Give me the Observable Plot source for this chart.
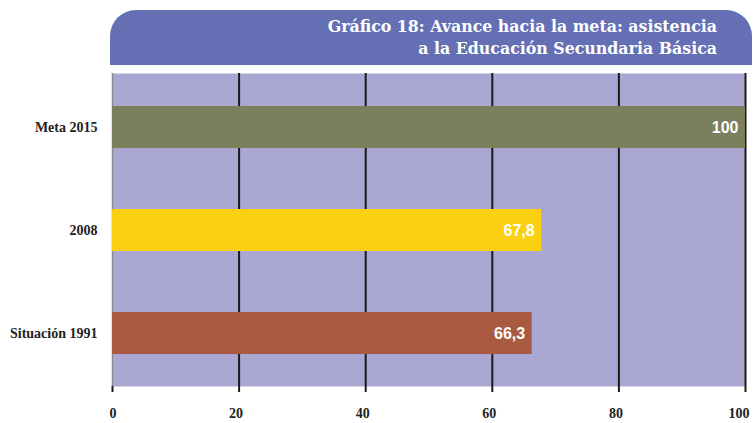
<!DOCTYPE html>
<html>
<head>
<meta charset="utf-8">
<script src="https://cdn.jsdelivr.net/npm/d3@7"></script>
<script src="https://cdn.jsdelivr.net/npm/@observablehq/plot@0.6"></script>
<style>
  html, body { margin: 0; padding: 0; background: #fff; }
  #wrap { position: relative; width: 756px; height: 423px; overflow: hidden; }
  #header {
    position: absolute; left: 110px; top: 10px; width: 642px; height: 55px;
    background: #6470b3; border-radius: 26px 26px 0 0; z-index: 2;
  }
  #header div {
    position: absolute; right: 35px; color: #fff;
    font-family: "DejaVu Serif", serif; font-weight: bold;
    font-size: 15.8px; white-space: nowrap; text-align: right; line-height: 18px;
  }
  #chart { position: absolute; left: 0; top: 0; }
</style>
</head>
<body>
<div id="wrap">
  <div id="header">
    <div style="top:8px">Gráfico 18: Avance hacia la meta: asistencia</div>
    <div style="top:30px">a la Educación Secundaria Básica</div>
  </div>
  <div id="chart"></div>
</div>
<script>
const categories = ["Meta 2015", "2008", "Situación 1991"];
const values = [100, 67.8, 66.3];
const labels = ["100", "67,8", "66,3"];
const colors = ["#7b7f5c", "#fbd011", "#ab5a42"];
const xTicks = [0, 20, 40, 60, 80, 100];

const data = categories.map((c, i) => ({cat: c, value: values[i], label: labels[i], color: colors[i]}));

const chart = Plot.plot({
  width: 756,
  height: 423,
  marginTop: 73,
  marginBottom: 37,
  marginLeft: 112,
  marginRight: 11,
  style: {background: "transparent", overflow: "visible"},
  x: {domain: [0, 100], ticks: xTicks},
  y: {domain: categories, paddingInner: 0.594, paddingOuter: 0.31, label: null},
  marks: [
    Plot.frame({fill: "#aaa8d3", stroke: null}),
    Plot.ruleX(xTicks.filter(d => d > 0), {stroke: "#1a1a1a", strokeWidth: 2}),
    Plot.ruleX([0], {stroke: "#8a8a8a", strokeWidth: 1.5}),
    Plot.barX(data, {x: "value", y: "cat", fill: "color"}),
    Plot.text(data, {x: "value", y: "cat", text: "label", textAnchor: "end", dx: -7, fill: "white",
      fontFamily: "Liberation Sans, Arial, sans-serif", fontWeight: "bold", fontSize: 16}),
    Plot.axisX({ticks: xTicks, tickSize: 6, tickFormat: () => "", label: null, stroke: "#1a1a1a", strokeWidth: 2}),
    Plot.axisX({ticks: xTicks, tickSize: 0, tickPadding: 22, label: null,
      textAnchor: "end", dx: 4,
      fontFamily: "Liberation Serif, serif", fontWeight: "bold", fontSize: 14, color: "#222"}),
    Plot.axisY({tickSize: 0, tickPadding: 15, label: null,
      fontFamily: "Liberation Serif, serif", fontWeight: "bold", fontSize: 14, color: "#222"})
  ]
});
document.getElementById("chart").appendChild(chart);
</script>
</body>
</html>
